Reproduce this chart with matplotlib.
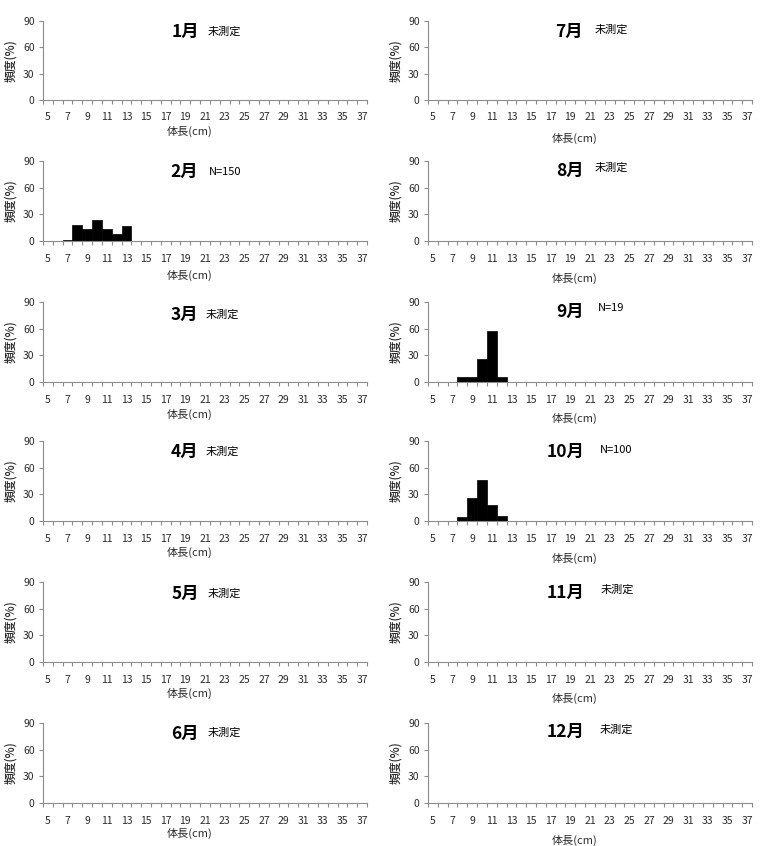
import numpy as np
import matplotlib
matplotlib.use("Agg")
import matplotlib.pyplot as plt

plt.rcParams["font.family"] = ["Noto Sans CJK JP", "DejaVu Sans"]

# body length classes (cm)
sizes = list(range(5, 38))
tick_labels = [str(s) for s in range(5, 38, 2)]

months = ["1月", "2月", "3月", "4月", "5月", "6月",
          "7月", "8月", "9月", "10月", "11月", "12月"]
notes = ["未測定", "N=150", "未測定", "未測定", "未測定", "未測定",
         "未測定", "未測定", "N=19", "N=100", "未測定", "未測定"]

# frequency (%) by size class, only for measured months
feb_sizes = [7, 8, 9, 10, 11, 12, 13]
feb_freq = [1, 18, 13, 24, 14, 8, 17]
sep_sizes = [8, 9, 10, 11, 12]
sep_freq = [5.3, 5.3, 26.3, 57.9, 5.3]
oct_sizes = [8, 9, 10, 11, 12]
oct_freq = [4, 26, 46, 18, 6]

hist = {"2月": (feb_sizes, feb_freq),
        "9月": (sep_sizes, sep_freq),
        "10月": (oct_sizes, oct_freq)}

W, H = 769, 846
fig = plt.figure(figsize=(W / 100, H / 100), dpi=100)

col_x = [(43, 367), (428, 752)]
row_y = [(21, 100), (161, 241), (302, 382), (441, 521), (582, 662), (723, 803)]
xlab_y = [[131, 275, 414, 552, 693, 833], [138, 278, 418, 558, 698, 840]]
month_pos = [[(185, 32), (184, 172), (184, 315), (184, 452), (185, 594), (185, 734)],
             [(569, 32), (570, 171), (570, 312), (566, 452), (566, 593), (566, 732)]]
note_pos = [[(224, 32), (225, 172), (222, 315), (222, 452), (224, 594), (224, 733)],
            [(611, 30), (611, 168), (611, 308), (616, 450), (617, 590), (616, 730)]]

grey = "#8c8c8c"
txt = "#2a2a2a"
n = len(sizes)

for c in range(2):
    for r in range(6):
        i = c * 6 + r
        x0, x1 = col_x[c]
        ytop, ybot = row_y[r]
        ax = fig.add_axes([x0 / W, 1 - ybot / H, (x1 - x0) / W, (ybot - ytop) / H])
        m = months[i]
        if m in hist:
            s, f = hist[m]
            pos = [sizes.index(v) for v in s]
            ax.bar(pos, f, width=1.0, color="black", edgecolor="black", linewidth=0.5)
        ax.set_xlim(-0.5, n - 0.5)
        ax.set_ylim(0, 90)
        ax.set_yticks([0, 30, 60, 90])
        ax.set_xticks(np.arange(-0.5, n, 1.0))
        ax.set_xticklabels([])
        ax.set_xticks(np.arange(0, n, 2), minor=True)
        ax.set_xticklabels(tick_labels, minor=True)
        ax.tick_params(axis="x", which="major", direction="out", length=3, width=0.8, color=grey)
        ax.tick_params(axis="x", which="minor", length=0, pad=9, labelsize=7.5, labelcolor=txt)
        ax.tick_params(axis="y", direction="out", length=3, width=0.8, color=grey,
                       labelsize=7.5, labelcolor=txt, pad=3)
        for sp in ["top", "right"]:
            ax.spines[sp].set_visible(False)
        for sp in ["left", "bottom"]:
            ax.spines[sp].set_color(grey)
            ax.spines[sp].set_linewidth(0.8)
        ax.set_ylabel("頻度(%)", fontsize=8.5, fontweight="medium", color=txt, labelpad=4)

        mx, my = month_pos[c][r]
        fig.text(mx / W, 1 - my / H, m, fontsize=12.5, fontweight="bold",
                 ha="center", va="center", color="black")
        nx, ny = note_pos[c][r]
        fig.text(nx / W, 1 - ny / H, notes[i], fontsize=8,
                 ha="center", va="center", color="black")
        fig.text((x0 + x1) / 2 / W - 0.02, 1 - xlab_y[c][r] / H, "体長(cm)", fontsize=8,
                 ha="center", va="center", color=txt)

fig.savefig("out.png", dpi=100)
